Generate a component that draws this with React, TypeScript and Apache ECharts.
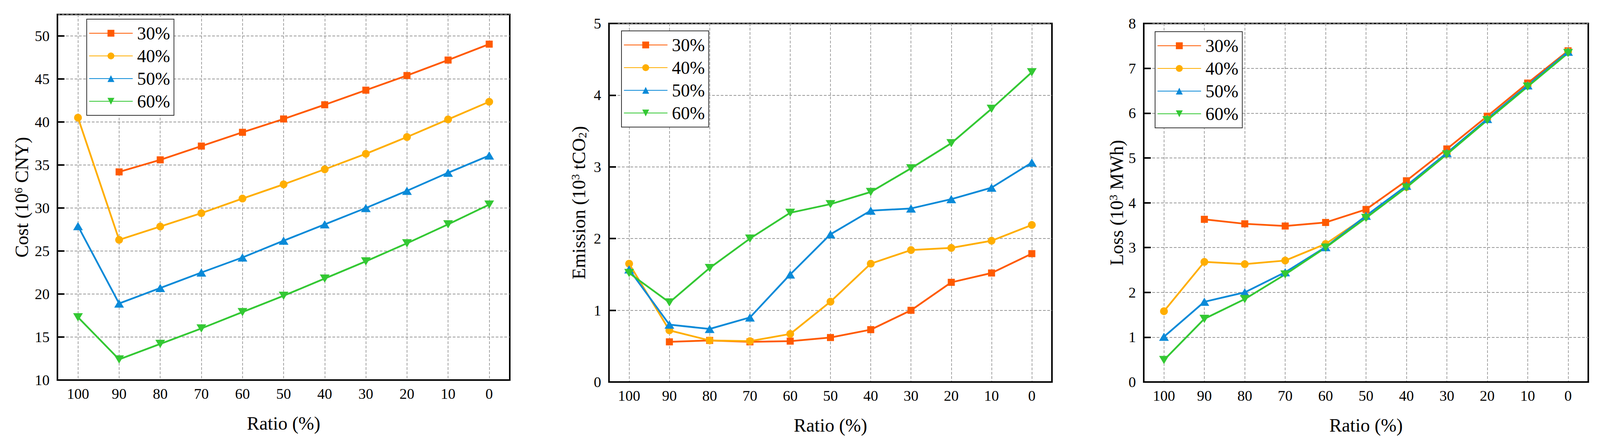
import { useEffect, useRef } from "react";
import * as echarts from "echarts";

const ratios = ["100", "90", "80", "70", "60", "50", "40", "30", "20", "10", "0"];
const seriesNames = ["30%", "40%", "50%", "60%"];
const colors = ["#FF5A00", "#FFAE00", "#0A8AD8", "#33C833"];
const symbols = ["rect", "circle", "triangle", "triangle"];
const symbolRotates = [0, 0, 0, 180];
const symbolSizes: (number | number[])[] = [18, 20, [25, 21], [25, 21]];

// Cost (10^6 CNY)
const cost30 = [null, 34.2, 35.6, 37.2, 38.8, 40.35, 42.0, 43.7, 45.4, 47.2, 49.05];
const cost40 = [40.5, 26.3, 27.85, 29.4, 31.1, 32.75, 34.5, 36.3, 38.25, 40.3, 42.35];
const cost50 = [27.9, 18.9, 20.7, 22.5, 24.25, 26.2, 28.1, 30.0, 32.0, 34.1, 36.1];
const cost60 = [17.3, 12.4, 14.2, 16.0, 17.9, 19.8, 21.8, 23.8, 25.9, 28.1, 30.4];

// Emission (10^3 tCO2)
const emis30 = [null, 0.56, 0.58, 0.56, 0.57, 0.62, 0.73, 1.0, 1.39, 1.52, 1.79];
const emis40 = [1.65, 0.72, 0.58, 0.57, 0.67, 1.12, 1.65, 1.84, 1.87, 1.97, 2.19];
const emis50 = [1.57, 0.8, 0.74, 0.9, 1.5, 2.06, 2.39, 2.42, 2.55, 2.71, 3.06];
const emis60 = [1.52, 1.11, 1.59, 2.0, 2.36, 2.48, 2.65, 2.98, 3.33, 3.81, 4.32];

// Loss (10^3 MWh)
const loss30 = [null, 3.63, 3.53, 3.48, 3.56, 3.85, 4.49, 5.2, 5.93, 6.67, 7.39];
const loss40 = [1.58, 2.68, 2.63, 2.71, 3.08, 3.69, 4.35, 5.09, 5.87, 6.61, 7.37];
const loss50 = [1.01, 1.79, 2.0, 2.45, 3.01, 3.71, 4.38, 5.11, 5.87, 6.62, 7.37];
const loss60 = [0.49, 1.41, 1.85, 2.4, 3.0, 3.66, 4.34, 5.08, 5.84, 6.59, 7.34];

const FONT = "Liberation Serif";

const panels = [
  {
    grid: { left: 147, top: 37, width: 1158, height: 935 },
    legend: { left: 222, top: 49 },
    y: { min: 10, max: 52.5, interval: 5, showMax: false, nameGap: 68 },
    name: "Cost (10{sup|6} CNY)",
    data: [cost30, cost40, cost50, cost60],
  },
  {
    grid: { left: 1559, top: 60, width: 1134, height: 917 },
    legend: { left: 1591, top: 79 },
    y: { min: 0, max: 5, interval: 1, showMax: true, nameGap: 54 },
    name: "Emission (10{sup|3} tCO{sub|2})",
    data: [emis30, emis40, emis50, emis60],
  },
  {
    grid: { left: 2928, top: 60, width: 1138, height: 917 },
    legend: { left: 2957, top: 81 },
    y: { min: 0, max: 8, interval: 1, showMax: true, nameGap: 46 },
    name: "Loss (10{sup|3} MWh)",
    data: [loss30, loss40, loss50, loss60],
  },
];

const gridLine = { show: true, lineStyle: { color: "#9a9a9a", width: 1.8, type: [7, 4] } };

export default function App() {
  const chartRef = useRef<HTMLDivElement>(null);

  useEffect(() => {
    if (!chartRef.current) return;
    const chart = echarts.init(chartRef.current, undefined, { renderer: "svg" });

    const option: echarts.EChartsOption = {
      animation: false,
      backgroundColor: "#ffffff",
      textStyle: { fontFamily: FONT, color: "#000" },
      grid: panels.map((p) => ({
        ...p.grid,
        show: true,
        borderColor: "#000",
        borderWidth: 4,
        backgroundColor: "transparent",
      })),
      legend: panels.map((p) => ({
        data: seriesNames,
        orient: "vertical",
        left: p.legend.left,
        top: p.legend.top,
        itemWidth: 110,
        itemHeight: 22,
        itemGap: 12,
        padding: [13, 10, 13, 6],
        borderColor: "#333",
        borderWidth: 2,
        backgroundColor: "#fff",
        selectedMode: false,
        textStyle: { fontFamily: FONT, fontSize: 46, color: "#000", padding: [0, 0, 0, 7] },
      })),
      xAxis: panels.map((_, i) => ({
        type: "category",
        gridIndex: i,
        data: ratios,
        boundaryGap: true,
        name: "Ratio (%)",
        nameLocation: "middle",
        nameGap: 86,
        nameTextStyle: { fontFamily: FONT, fontSize: 48, color: "#000" },
        axisLine: { lineStyle: { color: "#000", width: 4 } },
        axisTick: {
          alignWithLabel: true,
          inside: true,
          interval: 0,
          length: 18,
          lineStyle: { color: "#000", width: 4 },
        },
        axisLabel: { fontFamily: FONT, fontSize: 38, color: "#000", margin: 16, interval: 0 },
        splitLine: { ...gridLine, alignWithLabel: true, interval: 0 } as any,
      })),
      yAxis: panels.map((p, i) => ({
        type: "value",
        gridIndex: i,
        min: p.y.min,
        max: p.y.max,
        interval: p.y.interval,
        name: p.name,
        nameLocation: "middle",
        nameGap: p.y.nameGap,
        nameTextStyle: {
          fontFamily: FONT,
          fontSize: 48,
          color: "#000",
          rich: {
            sup: { fontFamily: FONT, fontSize: 30, color: "#000", verticalAlign: "top" },
            sub: { fontFamily: FONT, fontSize: 30, color: "#000", verticalAlign: "bottom" },
          },
        },
        axisLine: { show: true, lineStyle: { color: "#000", width: 4 } },
        axisTick: { show: true, inside: true, length: 18, lineStyle: { color: "#000", width: 4 } },
        axisLabel: {
          fontFamily: FONT,
          fontSize: 38,
          color: "#000",
          margin: 20,
          showMaxLabel: p.y.showMax,
        },
        splitLine: gridLine,
      })),
      series: panels.flatMap((p, i) =>
        p.data.map((values, k) => ({
          type: "line" as const,
          name: seriesNames[k],
          xAxisIndex: i,
          yAxisIndex: i,
          data: values,
          symbol: symbols[k],
          symbolSize: symbolSizes[k] as any,
          symbolRotate: symbolRotates[k],
          showAllSymbol: true,
          color: colors[k],
          lineStyle: { color: colors[k], width: 4.5, cap: "round" as const },
          itemStyle: { color: colors[k] },
        }))
      ),
    };

    chart.setOption(option);

    const handleResize = () => chart.resize();
    window.addEventListener("resize", handleResize);
    return () => {
      window.removeEventListener("resize", handleResize);
      chart.dispose();
    };
  }, []);

  return (
    <div
      ref={chartRef}
      style={{ position: "fixed", left: 0, top: 0, width: "4105px", height: "1133px", background: "#fff" }}
    />
  );
}
